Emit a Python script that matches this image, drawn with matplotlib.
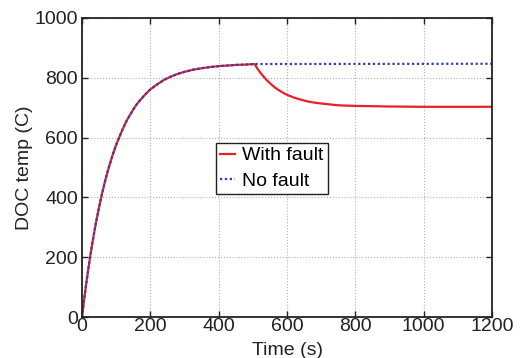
import numpy as np
import matplotlib.pyplot as plt

plt.rcParams['font.family'] = ['Liberation Sans', 'DejaVu Sans']

# warm-up part (shared by both runs)
t_rise = [0, 5, 10, 15, 20, 25, 30, 35, 40, 45, 50, 55, 60, 70, 80, 90, 100,
          110, 120, 130, 140, 150, 160, 170, 180, 190, 200, 220, 240, 260, 280,
          300, 325, 350, 375, 400, 425, 450, 475, 505]
T_rise = [0, 47, 91, 133, 172, 210, 245, 278, 310, 339, 367, 394, 419, 466, 506,
          543, 576, 604, 631, 655, 675, 694, 711, 725, 738, 750, 761, 778, 793,
          804, 813, 820, 827, 832, 836, 839, 841, 843, 844, 846]

# after the fault at ~505 s
t_fault = [505, 510, 515, 520, 530, 540, 550, 560, 570, 580, 590, 600, 620, 640,
           660, 680, 700, 725, 750, 800, 850, 900, 1000, 1100, 1200]
T_fault = [846, 837, 828, 820, 806, 793, 782, 772, 763, 756, 749, 743, 734, 727,
           721, 717, 714, 711, 708, 706, 705, 704, 703, 703, 703]

# no fault stays flat
t_nofault = [505, 1200]
T_nofault = [846, 847]

t_with = t_rise + t_fault[1:]
T_with = T_rise + T_fault[1:]
t_no = t_rise + t_nofault[1:]
T_no = T_rise + T_nofault[1:]

fig = plt.figure(figsize=(5.2, 3.58), dpi=100)
ax = fig.add_axes([82/520, 1 - 317/358, 410/520, 299/358])

ax.plot(t_with, T_with, color='#e8202a', lw=1.6, label='With fault')
ax.plot(t_no, T_no, color='#2a3fb0', lw=1.6, ls=(0, (1, 1.2)), label='No fault')

ax.set_xlim(0, 1200)
ax.set_ylim(0, 1000)
ax.set_xticks(np.arange(0, 1201, 200))
ax.set_yticks(np.arange(0, 1001, 200))
ax.grid(True, ls=':', color='#b0b0b0', lw=0.8)

ax.tick_params(direction='in', length=4, width=1, top=True, right=True,
               labelsize=14, colors='#222222')
ax.tick_params(axis='x', pad=1)
ax.tick_params(axis='y', pad=3)
for s in ax.spines.values():
    s.set_linewidth(1.3)
    s.set_color('#222222')

ax.set_xlabel('Time (s)', fontsize=14, color='#222222', labelpad=5)
ax.set_ylabel('DOC temp (C)', fontsize=14, color='#222222', labelpad=1)

leg = ax.legend(loc='upper left', bbox_to_anchor=(216/520, 1 - 143/358),
                bbox_transform=fig.transFigure, fontsize=14, fancybox=False,
                framealpha=1, edgecolor='#222222', handlelength=0.8,
                handletextpad=0.35, labelspacing=0.4, borderpad=0.2,
                borderaxespad=0)
leg.get_frame().set_linewidth(1)

plt.savefig('out.png', dpi=100)
